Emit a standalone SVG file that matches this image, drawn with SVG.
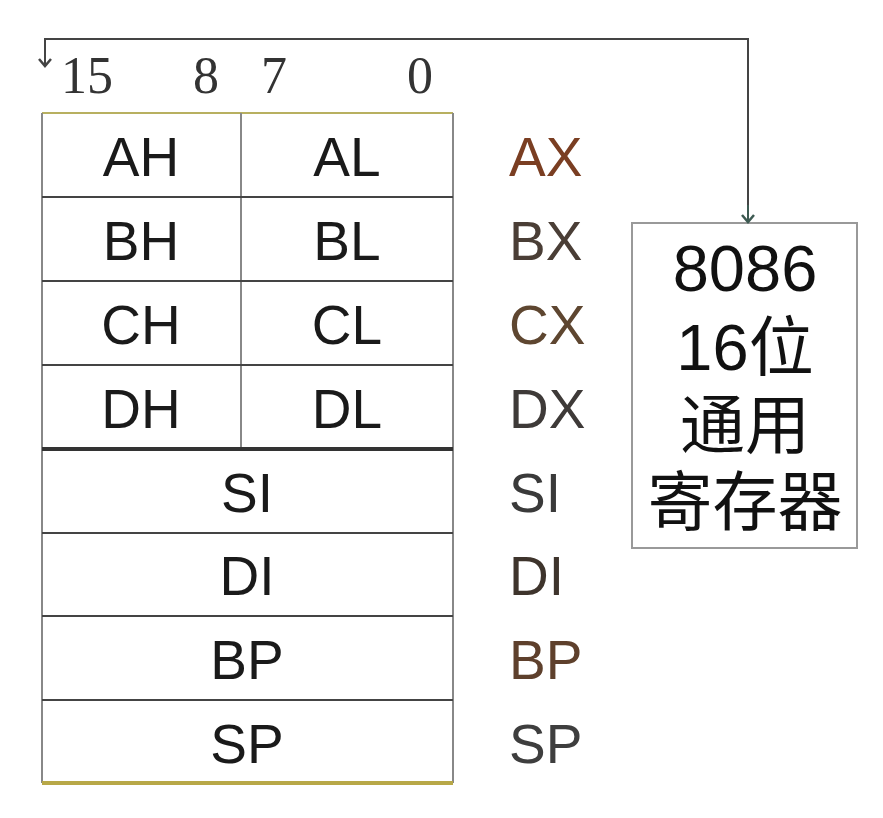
<svg xmlns="http://www.w3.org/2000/svg" width="883" height="818" viewBox="0 0 883 818">
<defs>
<style>
.cell{font-family:"Liberation Sans",Arial,sans-serif;font-size:55px;fill:#1a1a1a;text-anchor:middle}
.lab{font-family:"Liberation Sans",Arial,sans-serif;font-size:55px;text-anchor:start}
.bit{font-family:"Liberation Serif","Times New Roman",serif;font-size:52px;fill:#333}
.box{font-family:"Liberation Sans","Noto Sans CJK SC",sans-serif;font-size:65px;fill:#111;text-anchor:middle}
.hl{stroke:#444;stroke-width:2}
.vl{stroke:#888;stroke-width:2}
</style>
<marker id="ah" viewBox="0 0 14 14" refX="12" refY="7" markerWidth="14" markerHeight="14" markerUnits="userSpaceOnUse" orient="auto">
<path d="M5,1 L12,7 L5,13" fill="none" stroke="#3d5a52" stroke-width="2.5"/>
</marker>
<marker id="ahl" viewBox="0 0 14 14" refX="12" refY="7" markerWidth="14" markerHeight="14" markerUnits="userSpaceOnUse" orient="auto">
<path d="M5,1 L12,7 L5,13" fill="none" stroke="#444" stroke-width="2.5"/>
</marker>
</defs>
<rect width="883" height="818" fill="#ffffff"/>
<g id="bits">
<text class="bit" x="61" y="93">15</text>
<text class="bit" x="193" y="93">8</text>
<text class="bit" x="261" y="93">7</text>
<text class="bit" x="407" y="93">0</text>
</g>
<g id="register-table">
<line x1="42" y1="113" x2="453" y2="113" stroke="#b8b060" stroke-width="2"/>
<line class="vl" x1="42" y1="113" x2="42" y2="783"/>
<line class="vl" x1="453" y1="113" x2="453" y2="783"/>
<line class="vl" x1="241" y1="113" x2="241" y2="449"/>
<line class="hl" x1="42" y1="197" x2="453" y2="197"/>
<line class="hl" x1="42" y1="281" x2="453" y2="281"/>
<line class="hl" x1="42" y1="365" x2="453" y2="365"/>
<line x1="42" y1="449" x2="453" y2="449" stroke="#333" stroke-width="4"/>
<line class="hl" x1="42" y1="533" x2="453" y2="533"/>
<line class="hl" x1="42" y1="616" x2="453" y2="616"/>
<line class="hl" x1="42" y1="700" x2="453" y2="700"/>
<line x1="42" y1="783" x2="453" y2="783" stroke="#b8a848" stroke-width="4"/>
</g>
<g id="cells">
<text class="cell" x="141" y="176">AH</text>
<text class="cell" x="347" y="176">AL</text>
<text class="cell" x="141" y="260">BH</text>
<text class="cell" x="347" y="260">BL</text>
<text class="cell" x="141" y="344">CH</text>
<text class="cell" x="347" y="344">CL</text>
<text class="cell" x="141" y="428">DH</text>
<text class="cell" x="347" y="428">DL</text>
<text class="cell" x="247" y="512">SI</text>
<text class="cell" x="247" y="595">DI</text>
<text class="cell" x="247" y="679" fill="#1a1a40">BP</text>
<text class="cell" x="247" y="763">SP</text>
</g>
<g id="names">
<text class="lab" x="509" y="176" fill="#7a3e22">AX</text>
<text class="lab" x="509" y="260" fill="#4a3e36">BX</text>
<text class="lab" x="509" y="344" fill="#5e4630">CX</text>
<text class="lab" x="509" y="428" fill="#3e3a38">DX</text>
<text class="lab" x="509" y="512" fill="#3a3a3a">SI</text>
<text class="lab" x="509" y="595" fill="#3e342c">DI</text>
<text class="lab" x="509" y="679" fill="#5e402c">BP</text>
<text class="lab" x="509" y="763" fill="#3e3e3e">SP</text>
</g>
<g id="title-box">
<rect x="632" y="223" width="225" height="325" fill="#ffffff" stroke="#999" stroke-width="2"/>
<text class="box" x="745" y="291">8086</text>
<text class="box" x="745" y="370">16位</text>
<text class="box" x="745" y="448">通用</text>
<text class="box" x="745" y="525">寄存器</text>
</g>
<g id="connectors">
<path d="M748,222 L748,39 L45,39 L45,66" fill="none" stroke="#444" stroke-width="2" marker-end="url(#ahl)"/>
<path d="M748,205 L748,222" fill="none" stroke="#3d5a52" stroke-width="2" marker-end="url(#ah)"/>
</g>
</svg>
